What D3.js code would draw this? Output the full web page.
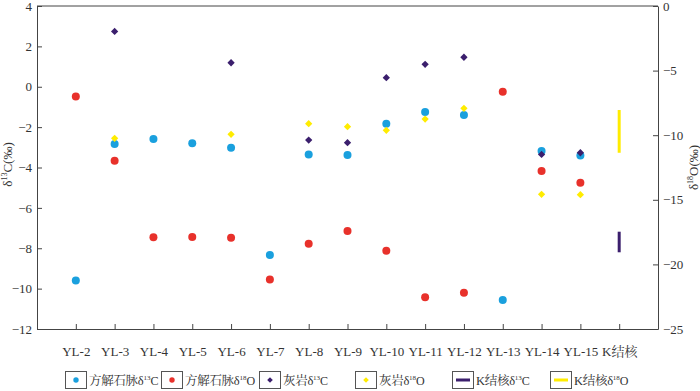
<!DOCTYPE html>
<html lang="zh">
<head>
<meta charset="UTF-8">
<title>δ13C δ18O</title>
<style>
    body { margin: 0; background: #fff; }
    svg text { font-family: "Liberation Serif", "Noto Serif CJK SC", "Noto Sans CJK SC"; fill: #333; }
    .axis path, .axis line { stroke: #444; }
</style>
</head>
<body>
<div id="chart"></div>
<script src="https://d3js.org/d3.v7.min.js"></script>
<script>
// samples along the x axis
const samples = ["YL-2", "YL-3", "YL-4", "YL-5", "YL-6", "YL-7", "YL-8", "YL-9",
                 "YL-10", "YL-11", "YL-12", "YL-13", "YL-14", "YL-15", "K结核"];

// calcite vein (left axis, δ13C)
const veinC = [-9.6, -2.84, -2.59, -2.8, -3.02, -8.33, -3.35, -3.38, -1.83, -1.25, -1.4, -10.56, -3.18, -3.4, null];
// calcite vein (right axis, δ18O)
const veinO = [-7.0, -11.97, -17.9, -17.88, -17.93, -21.16, -18.4, -17.42, -18.94, -22.55, -22.19, -6.63, -12.77, -13.68, null];
// limestone δ13C (left axis)
const limeC = [null, 2.74, null, null, 1.19, null, -2.64, -2.77, 0.45, 1.11, 1.46, null, -3.35, -3.27, null];
// limestone δ18O (right axis)
const limeO = [null, -10.24, null, null, -9.93, null, -9.11, -9.34, -9.62, -8.75, -7.92, null, -14.58, -14.6, null];
// K nodule ranges
const noduleC = [-7.18, -8.2];
const noduleO = [-8.05, -11.36];

const leftTicks = [4, 2, 0, -2, -4, -6, -8, -10, -12];
const rightTicks = [0, -5, -10, -15, -20, -25];

const colors = { veinC: "#1aa0de", veinO: "#e8312b", limeC: "#3b1f6d", limeO: "#ffec00" };

const W = 700, H = 391;
const margin = { top: 6, right: 42, bottom: 62, left: 37 };
const width = W - margin.left - margin.right;
const height = H - margin.top - margin.bottom;

const svg = d3.select("#chart").append("svg")
    .attr("width", W).attr("height", H);
const g = svg.append("g").attr("transform", `translate(${margin.left},${margin.top})`);

const x = d3.scaleLinear().domain([0, samples.length + 1]).range([0, width]);
const yL = d3.scaleLinear().domain([-12, 4]).range([height, 0]);
const yR = d3.scaleLinear().domain([-25, 0]).range([height, 0]);

const fmt = d => d < 0 ? "\u2212" + Math.abs(d) : String(d);

// axes (ticks point inward)
const axL = g.append("g").attr("class", "axis")
    .call(d3.axisLeft(yL).tickValues(leftTicks).tickFormat(fmt).tickSizeInner(-5).tickSizeOuter(0).tickPadding(5));
const axR = g.append("g").attr("class", "axis")
    .attr("transform", `translate(${width},0)`)
    .call(d3.axisRight(yR).tickValues(rightTicks).tickFormat(fmt).tickSizeInner(-5).tickSizeOuter(0).tickPadding(5));
const axB = g.append("g").attr("class", "axis")
    .attr("transform", `translate(0,${height})`)
    .call(d3.axisBottom(x).tickValues(d3.range(1, samples.length + 1))
        .tickFormat(d => samples[d - 1]).tickSizeInner(-5).tickSizeOuter(0).tickPadding(13));
g.append("line").attr("x1", 0).attr("x2", width).attr("y1", 0).attr("y2", 0).attr("stroke", "#444");

g.selectAll(".axis").attr("font-family", null).attr("font-size", null);
g.selectAll(".axis text").style("font-size", "13px").attr("fill", "#333");
axB.selectAll("text").attr("dy", "1.1em");

// axis titles
function axisTitle(sel, iso) {
    sel.append("tspan").text("δ");
    sel.append("tspan").text(iso).style("font-size", "8px").attr("dy", "-5");
    sel.append("tspan").text(sel.datum() + "(‰)").attr("dy", "5");
}
g.append("text").datum("C")
    .attr("transform", `translate(-25,${height / 2 - 3}) rotate(-90)`)
    .attr("text-anchor", "middle").style("font-size", "13px")
    .call(axisTitle, "13");
g.append("text").datum("O")
    .attr("transform", `translate(${width + 40},${height / 2}) rotate(-90)`)
    .attr("text-anchor", "middle").style("font-size", "13px")
    .call(axisTitle, "18");

// points
const diamond = d3.symbol().type(d3.symbolDiamond2).size(34);
function dots(vals, scale, color) {
    g.append("g").selectAll("circle")
        .data(vals.map((v, i) => ({ v, i })).filter(d => d.v !== null))
        .join("circle")
        .attr("cx", d => x(d.i + 1)).attr("cy", d => scale(d.v))
        .attr("r", 4).attr("fill", color);
}
function diamonds(vals, scale, color) {
    g.append("g").selectAll("path")
        .data(vals.map((v, i) => ({ v, i })).filter(d => d.v !== null))
        .join("path")
        .attr("d", diamond)
        .attr("transform", d => `translate(${x(d.i + 1)},${scale(d.v)})`)
        .attr("fill", color);
}
dots(veinC, yL, colors.veinC);
dots(veinO, yR, colors.veinO);
diamonds(limeC, yL, colors.limeC);
diamonds(limeO, yR, colors.limeO);

const kx = x(samples.length);
g.append("line").attr("x1", kx).attr("x2", kx)
    .attr("y1", yR(noduleO[0])).attr("y2", yR(noduleO[1]))
    .attr("stroke", colors.limeO).attr("stroke-width", 3);
g.append("line").attr("x1", kx).attr("x2", kx)
    .attr("y1", yL(noduleC[0])).attr("y2", yL(noduleC[1]))
    .attr("stroke", colors.limeC).attr("stroke-width", 3);

// legend
const legendItems = [
    { name: "方解石脉", iso: "13", el: "C", type: "dot", color: colors.veinC, x: 65 },
    { name: "方解石脉", iso: "18", el: "O", type: "dot", color: colors.veinO, x: 161 },
    { name: "灰岩", iso: "13", el: "C", type: "diamond", color: colors.limeC, x: 259 },
    { name: "灰岩", iso: "18", el: "O", type: "diamond", color: colors.limeO, x: 355 },
    { name: "K结核", iso: "13", el: "C", type: "line", color: colors.limeC, x: 452 },
    { name: "K结核", iso: "18", el: "O", type: "line", color: colors.limeO, x: 550 }
];
const lg = svg.append("g").selectAll("g").data(legendItems).join("g")
    .attr("transform", d => `translate(${d.x},371)`);
lg.append("rect").attr("x", 0.5).attr("y", 0.5).attr("width", 21).attr("height", 17)
    .attr("fill", "#fff").attr("stroke", "#555");
lg.filter(d => d.type === "dot").append("circle")
    .attr("cx", 11).attr("cy", 9).attr("r", 2.7).attr("fill", d => d.color);
lg.filter(d => d.type === "diamond").append("path")
    .attr("d", d3.symbol().type(d3.symbolDiamond2).size(20))
    .attr("transform", "translate(11,9)").attr("fill", d => d.color);
lg.filter(d => d.type === "line").append("line")
    .attr("x1", 4).attr("x2", 18).attr("y1", 9).attr("y2", 9)
    .attr("stroke", d => d.color).attr("stroke-width", 3);
const lt = lg.append("text").attr("x", 24).attr("y", 14).style("font-size", "12.5px");
lt.append("tspan").text(d => d.name + "δ").style("letter-spacing", "-0.3px");
lt.append("tspan").text(d => d.iso).style("font-size", "7px").attr("dy", "-5");
lt.append("tspan").text(d => d.el).style("font-size", "12px").attr("dy", "5");
</script>
</body>
</html>
